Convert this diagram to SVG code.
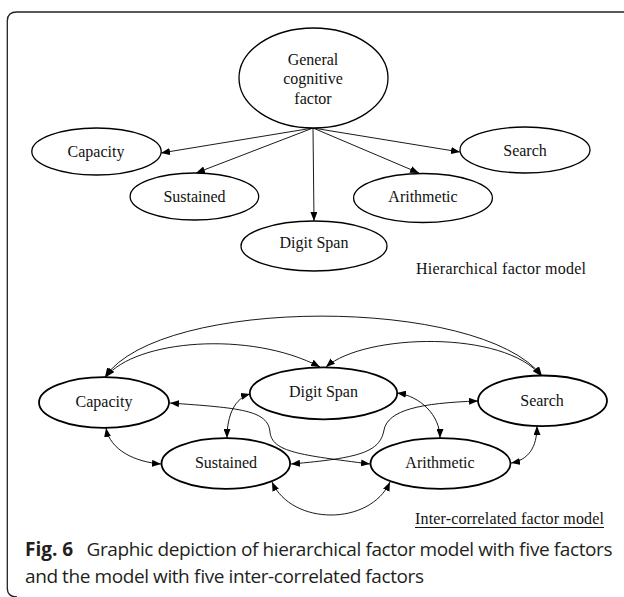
<svg xmlns="http://www.w3.org/2000/svg" width="624" height="597" viewBox="0 0 624 597">
<defs>
<marker id="ah" viewBox="0 0 9 7" refX="9" refY="3.5" markerWidth="9" markerHeight="7" markerUnits="userSpaceOnUse" orient="auto-start-reverse">
<path d="M0,0 L9,3.5 L0,7 z" fill="#000"/>
</marker>
<style>
.lbl{font-family:"Liberation Serif","Times New Roman",serif;font-size:16px;fill:#111;text-anchor:middle}
.n1{fill:#fff;stroke:#000;stroke-width:1.3}
.n2{fill:#fff;stroke:#000;stroke-width:1.8}
.e{fill:none;stroke:#000;stroke-width:0.9}
.one{marker-end:url(#ah)}
.two{marker-start:url(#ah);marker-end:url(#ah)}
.cap{font-family:"Open Sans","Noto Sans",sans-serif;font-size:19px;fill:#231f20}
</style>
</defs>
<rect width="624" height="597" fill="#fff"/>
<path d="M17,597 Q7.3,597 7.3,588 L7.3,21 Q7.3,12 17,12 L624,12" fill="none" stroke="#222" stroke-width="1.3"/>

<g id="connectors">
<line class="e one" x1="313" y1="128" x2="161" y2="153"/>
<line class="e one" x1="313" y1="128" x2="196" y2="173"/>
<line class="e one" x1="313" y1="128" x2="314" y2="221"/>
<line class="e one" x1="313" y1="128" x2="419" y2="173"/>
<line class="e one" x1="313" y1="128" x2="460" y2="152"/>

<path class="e two" d="M105,377 C160,296 480,296 542,376"/>
<path class="e two" d="M106,377 C135,340 250,330 320,367"/>
<path class="e two" d="M326,367 C365,333 505,330 541,376"/>
<path class="e two" d="M106,428 C110,450 135,462 161,464"/>
<path class="e two" d="M250,394 C235,398 227,415 227,438"/>
<path class="e two" d="M397,393 C420,396 440,415 440,438"/>
<path class="e two" d="M537,426 C537,448 528,460 511,463"/>
<path class="e two" d="M272,482 C292,526 370,526 390,482"/>
<path class="e two" d="M170,403 C240,408 268,410 270,432 C272,452 300,455 370,464"/>
<path class="e two" d="M291,464 C360,458 380,452 384,430 C388,410 420,403 478,401"/>
</g>

<g id="general">
<ellipse class="n1" cx="313.5" cy="78" rx="74.5" ry="50"/>
<text class="lbl" x="313" y="64.5">General</text>
<text class="lbl" x="313" y="84">cognitive</text>
<text class="lbl" x="313" y="103.5">factor</text>
</g>
<g id="h-capacity">
<ellipse class="n1" cx="96.5" cy="151.5" rx="64.7" ry="23.5"/>
<text class="lbl" x="96" y="157">Capacity</text>
</g>
<g id="h-sustained">
<ellipse class="n1" cx="194.4" cy="196.5" rx="64.3" ry="23.5"/>
<text class="lbl" x="194.5" y="202">Sustained</text>
</g>
<g id="h-digitspan">
<ellipse class="n1" cx="314" cy="246" rx="73" ry="25"/>
<text class="lbl" x="314" y="248">Digit Span</text>
</g>
<g id="h-arithmetic">
<ellipse class="n1" cx="423" cy="198" rx="69.4" ry="24.5"/>
<text class="lbl" x="423" y="202">Arithmetic</text>
</g>
<g id="h-search">
<ellipse class="n1" cx="525" cy="150" rx="65" ry="23"/>
<text class="lbl" x="525" y="155.5">Search</text>
</g>
<text class="lbl" x="416" y="274" style="text-anchor:start" textLength="170">Hierarchical factor model</text>

<g id="c-capacity">
<ellipse class="n2" cx="104" cy="402.5" rx="65" ry="25.3"/>
<text class="lbl" x="104" y="407">Capacity</text>
</g>
<g id="c-digitspan">
<ellipse class="n2" cx="323.5" cy="393.3" rx="73.7" ry="26"/>
<text class="lbl" x="323.5" y="397">Digit Span</text>
</g>
<g id="c-search">
<ellipse class="n2" cx="542.5" cy="400.8" rx="64.5" ry="25.3"/>
<text class="lbl" x="542" y="405.5">Search</text>
</g>
<g id="c-sustained">
<ellipse class="n2" cx="225.8" cy="463.5" rx="64.3" ry="25.3"/>
<text class="lbl" x="226" y="468">Sustained</text>
</g>
<g id="c-arithmetic">
<ellipse class="n2" cx="440.5" cy="463.5" rx="70" ry="25.3"/>
<text class="lbl" x="440" y="468">Arithmetic</text>
</g>
<text class="lbl" x="415" y="524.3" style="text-anchor:start" textLength="189">Inter-correlated factor model</text>
<line x1="415" y1="527.5" x2="604" y2="527.5" stroke="#111" stroke-width="1"/>

<text class="cap" x="25" y="555.7" style="font-weight:bold">Fig. 6</text>
<text class="cap" x="86.5" y="555.7" textLength="526">Graphic depiction of hierarchical factor model with five factors</text>
<text class="cap" x="25" y="583.3" textLength="399">and the model with five inter-correlated factors</text>
</svg>
